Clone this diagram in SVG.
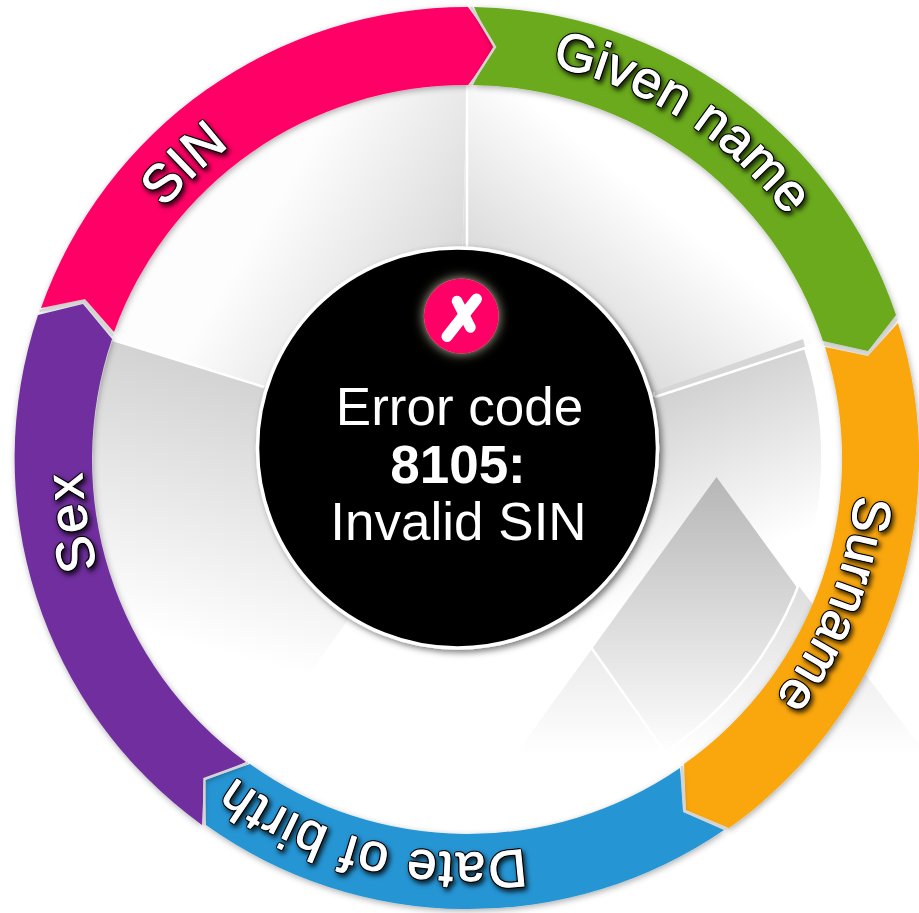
<svg xmlns="http://www.w3.org/2000/svg" xmlns:xlink="http://www.w3.org/1999/xlink" width="919" height="913" viewBox="0 0 919 913">
<style>
.lbl{font-family:"Liberation Sans",Arial,sans-serif;font-size:53px;fill:#fff;stroke:#fff;stroke-width:1px;stroke-linejoin:round;text-anchor:middle}
.ctr{font-family:"Liberation Sans",Arial,sans-serif;font-size:53px;fill:#fff;text-anchor:middle}
.div{stroke:#fff;stroke-width:2.5;fill:none}
.gap{stroke:#d4d4d4;stroke-width:2.5;fill:none}
.seg{filter:url(#ringShadow)}
</style>
<defs>
<linearGradient id="gS1" gradientUnits="userSpaceOnUse" x1="460" y1="250" x2="305" y2="155"><stop offset="0" stop-color="#dadada"/><stop offset="1" stop-color="#fdfdfd"/></linearGradient>
<linearGradient id="gS2" gradientUnits="userSpaceOnUse" x1="500" y1="300" x2="610" y2="165"><stop offset="0" stop-color="#d6d6d6"/><stop offset="1" stop-color="#fff"/></linearGradient>
<linearGradient id="gS3" gradientUnits="userSpaceOnUse" x1="690" y1="385" x2="760" y2="550"><stop offset="0" stop-color="#d2d2d2"/><stop offset="1" stop-color="#fff"/></linearGradient>
<linearGradient id="gS5" gradientUnits="userSpaceOnUse" x1="240" y1="370" x2="170" y2="640"><stop offset="0" stop-color="#d2d2d2"/><stop offset="1" stop-color="#fff"/></linearGradient>
<linearGradient id="gTri" gradientUnits="userSpaceOnUse" x1="0" y1="477" x2="0" y2="755"><stop offset="0" stop-color="#b6b6b6"/><stop offset="1" stop-color="#fff"/></linearGradient>
<clipPath id="clipS3"><path d="M457,448L655,397L805,348A354 354 0 0 1 665,752L576,626Z"/></clipPath>
<filter id="ringShadow" x="-15%" y="-15%" width="130%" height="130%"><feDropShadow dx="1" dy="2" stdDeviation="3" flood-color="#000" flood-opacity=".32"/></filter>
<filter id="textShadow" x="-20%" y="-20%" width="140%" height="140%" color-interpolation-filters="sRGB">
<feGaussianBlur in="SourceAlpha" stdDeviation="1" result="b"/>
<feComponentTransfer in="b" result="outline"><feFuncA type="linear" slope="5" intercept="-.35"/></feComponentTransfer>
<feDropShadow in="outline" dx="2" dy="3" stdDeviation="2.5" flood-color="#000" flood-opacity=".8" result="os"/>
<feMerge><feMergeNode in="os"/><feMergeNode in="SourceGraphic"/></feMerge>
</filter>
<filter id="discShadow" x="-10%" y="-10%" width="120%" height="120%"><feDropShadow dx="3" dy="3" stdDeviation="3" flood-color="#000" flood-opacity=".5"/></filter>
<filter id="glow" x="-40%" y="-40%" width="180%" height="180%"><feDropShadow dx="0" dy="0" stdDeviation="6" flood-color="#c8c2a8" flood-opacity=".95"/></filter>
<path id="r402" d="M118.9,258A402 402 0 0 1 815.1,258"/>
<path id="r390" d="M129.3,264A390 390 0 0 1 804.7,264"/>
<path id="r394" d="M125.8,262A394 394 0 0 1 808.2,262"/>
<path id="r385" d="M133.6,266.5A385 385 0 0 1 800.4,266.5"/>
<path id="r393" d="M126.7,262.5A393 393 0 0 1 807.3,262.5"/>
</defs>
<rect width="919" height="913" fill="#fff"/>
<g id="backdrop">
<polygon points="716.5,477 515,755 919,755 919,745" fill="url(#gTri)" opacity=".75"/>
<path d="M457,448L467,85A374 374 0 0 0 113,338Z" fill="url(#gS1)"/>
<path d="M457,448L467,85A374 374 0 0 1 823,340L655,392Z" fill="url(#gS2)"/>
<path d="M457,448L113,339A374 374 0 0 0 246,762L343,627Z" fill="url(#gS5)"/>
<polygon points="655,391 803,339 805,347 655,398" fill="#d6d6d6"/>
<path d="M457,448L655,397L805,348A354 354 0 0 1 665,752L576,626Z" fill="url(#gS3)"/>
<polygon points="716.5,477 515,755 919,755" fill="url(#gTri)" clip-path="url(#clipS3)"/>
<path class="div" d="M467,85V250"/>
<path class="div" d="M113,340L264,387"/>
<path class="div" d="M655,397L805,348A354 354 0 0 1 665,752L576,626"/>
</g>
<g id="node-sin">
<path class="seg" fill="#ff0066" d="M41,308A452 452 0 0 1 468,7L497,47L468,85A374 374 0 0 0 114,332L85,299Z"/>
<g filter="url(#textShadow)"><text class="lbl" transform="rotate(316.3 467 459)" letter-spacing="1"><textPath href="#r393" xlink:href="#r393" startOffset="50%">SIN</textPath></text></g>
</g>
<g id="node-given-name">
<path class="seg" fill="#6aaa1d" d="M474,7A452 452 0 0 1 896,315L868,351L823,341A374 374 0 0 0 473,85L493,47Z"/>
<g filter="url(#textShadow)"><text class="lbl" transform="rotate(32.5 467 459)"><textPath href="#r402" xlink:href="#r402" startOffset="50%">Given name</textPath></text></g>
</g>
<g id="node-surname">
<path class="seg" fill="#faa711" d="M898,323A452 452 0 0 1 729,828L686,810L684,764A374 374 0 0 0 825,347L868,356Z"/>
<g filter="url(#textShadow)"><text class="lbl" transform="rotate(111.6 467 459)" letter-spacing="1"><textPath href="#r390" xlink:href="#r390" startOffset="50%">Surname</textPath></text></g>
</g>
<g id="node-date-of-birth">
<path class="seg" fill="#2595d4" d="M724,830A452 452 0 0 1 206,825L205,780L250,764A374 374 0 0 0 680,768L683,812Z"/>
<g filter="url(#textShadow)"><text class="lbl" transform="rotate(194 467 459)" letter-spacing="1.5"><textPath href="#r394" xlink:href="#r394" startOffset="50%">Date of birth</textPath></text></g>
</g>
<g id="node-sex">
<path class="seg" fill="#6f2f9e" d="M202,825A452 452 0 0 1 38,315L83,304L112,339A374 374 0 0 0 246,762L204,780Z"/>
<g filter="url(#textShadow)"><text class="lbl" transform="rotate(261 467 459)" letter-spacing="2.5"><textPath href="#r385" xlink:href="#r385" startOffset="50%">Sex</textPath></text></g>
</g>
<g id="connectors">
<polyline class="gap" points="471,7 495,47 470.5,85"/>
<polyline class="gap" points="897,319 868,353.5 824,344"/>
<polyline class="gap" points="726.5,829 684.5,811 682,766"/>
<polyline class="gap" points="204,825 204.5,779 248,763"/>
<polyline class="gap" points="39.5,311 84,301.5 113,335.5"/>
</g>
<g id="node-error">
<circle cx="457.5" cy="448" r="200" fill="#000" stroke="#fff" stroke-width="3.5" filter="url(#discShadow)"/>
<circle cx="461.3" cy="316" r="37.5" fill="#ff0066" filter="url(#glow)"/>
<path d="M447,336.5L476.5,299" stroke="#fff" stroke-width="11" stroke-linecap="round" fill="none"/>
<path d="M457,301L470.5,327.5" stroke="#fff" stroke-width="10.5" stroke-linecap="round" fill="none"/>
<text class="ctr" x="459.5" y="425">Error code</text>
<text class="ctr" x="458" y="483" font-weight="700">8105:</text>
<text class="ctr" x="458.5" y="540">Invalid SIN</text>
</g>
</svg>
